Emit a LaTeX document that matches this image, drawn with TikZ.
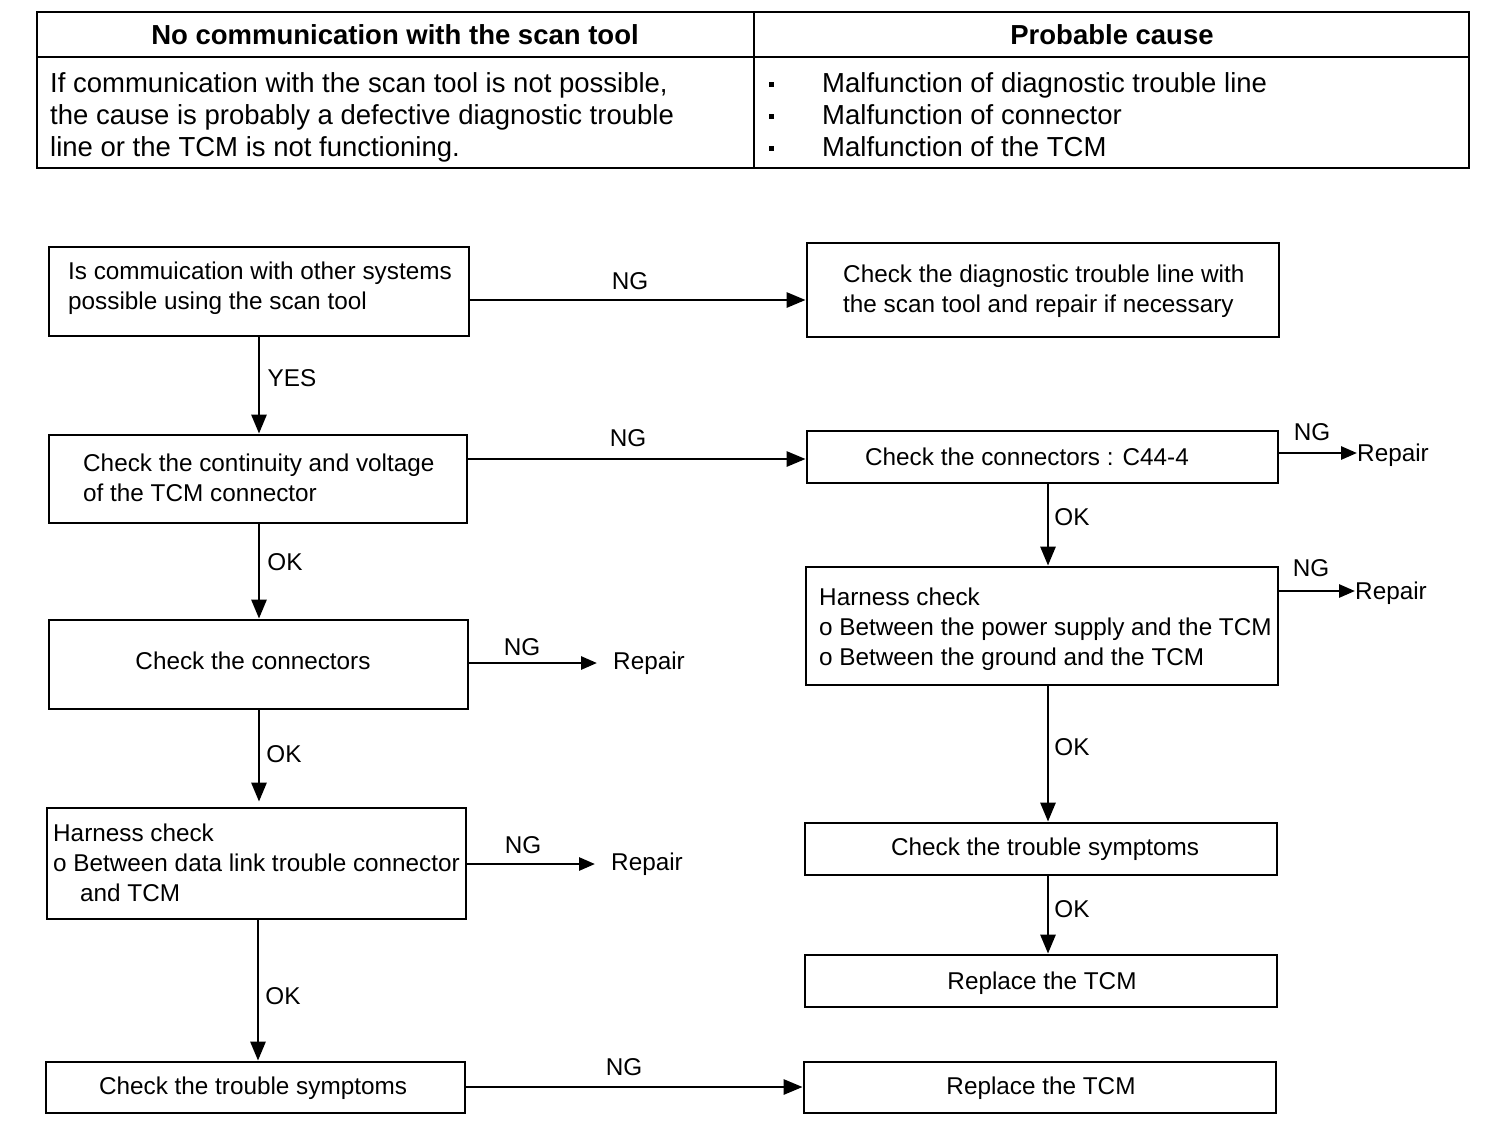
\documentclass[tikz,border=0pt]{standalone}
\usepackage{fontspec}
\setmainfont{Liberation Sans}
\usetikzlibrary{arrows.meta}
\begin{document}
\begin{tikzpicture}[x=1pt,y=-1pt,
  box/.style={draw, line width=2.8pt, rectangle, inner sep=0pt},
  txt/.style={inner sep=0pt, font=\fontsize{24.3pt}{30pt}\selectfont},
  ttxt/.style={inner sep=0pt, font=\fontsize{27.5pt}{32pt}\selectfont},
  arr/.style={line width=2.8pt, -{Triangle[length=19pt,width=15pt]}},
  sarr/.style={line width=2.8pt, -{Triangle[length=16pt,width=13pt]}},
  lbl/.style={inner sep=0pt, font=\fontsize{24.3pt}{30pt}\selectfont}]
\useasboundingbox (0,0) rectangle (1504,1136);
% table
\draw[line width=2.2pt] (37,12) rectangle (1469,168);
\draw[line width=2.2pt] (37,57) -- (1469,57);
\draw[line width=2.2pt] (754,12) -- (754,168);
\node[ttxt, font=\fontsize{27.5pt}{32pt}\selectfont\bfseries] (th1) at (395,35) {No communication with the scan tool};
\node[ttxt, font=\fontsize{27.5pt}{32pt}\selectfont\bfseries] (th2) at (1112,35) {Probable cause};
\node[ttxt, anchor=west, align=left] (tb1) at (50,117) {If communication with the scan tool is not possible,\\the cause is probably a defective diagnostic trouble\\line or the TCM is not functioning.};
\node[ttxt, anchor=west, align=left] (tb2) at (769,119) {\rule[5.5pt]{5pt}{5pt}\\\rule[5.5pt]{5pt}{5pt}\\\rule[5.5pt]{5pt}{5pt}};
\node[ttxt, anchor=west, align=left] (tb3) at (822,115) {Malfunction of diagnostic trouble line\\Malfunction of connector\\Malfunction of the TCM};
% boxes
\node[box, minimum width=420pt, minimum height=89pt] (A) at (259,291.5) {};
\node[box, minimum width=472pt, minimum height=94pt] (B) at (1043,290) {};
\node[box, minimum width=418pt, minimum height=88pt] (C) at (258,479) {};
\node[box, minimum width=471pt, minimum height=52pt] (D) at (1042.5,457) {};
\node[box, minimum width=472pt, minimum height=118pt] (E) at (1042,626) {};
\node[box, minimum width=472pt, minimum height=52pt] (F) at (1041,849) {};
\node[box, minimum width=472pt, minimum height=52pt] (G) at (1041,981) {};
\node[box, minimum width=419pt, minimum height=89pt] (H) at (258.5,664.5) {};
\node[box, minimum width=419pt, minimum height=111pt] (I) at (256.5,863.5) {};
\node[box, minimum width=419pt, minimum height=51pt] (J) at (255.5,1087.5) {};
\node[box, minimum width=472pt, minimum height=51pt] (K) at (1040,1087.5) {};
% box texts
\node[txt, anchor=west, align=left] (At) at (68,288) {Is commuication with other systems\\possible using the scan tool};
\node[txt, anchor=west, align=left] (Bt) at (843,291) {Check the diagnostic trouble line with\\the scan tool and repair if necessary};
\node[txt, anchor=west, align=left] (Ct) at (83,478) {Check the continuity and voltage\\of the TCM connector};
\node[txt] (Dt) at (1027,457) {Check the connectors : C44-4};
\node[txt, anchor=west, align=left] (Et) at (819,629) {Harness check\\o Between the power supply and the TCM\\o Between the ground and the TCM};
\node[txt] (Ft) at (1045,849) {Check the trouble symptoms};
\node[txt] (Gt) at (1042,983) {Replace the TCM};
\node[txt] (Ht) at (253,661) {Check the connectors};
\node[txt, anchor=west, align=left] (It) at (53,863) {Harness check\\o Between data link trouble connector\\\hspace{27pt}and TCM};
\node[txt] (Jt) at (253,1088) {Check the trouble symptoms};
\node[txt] (Kt) at (1041,1088) {Replace the TCM};
% repair nodes
\node[txt, anchor=west] (R1) at (1357,455) {Repair};
\node[txt, anchor=west] (R2) at (1355,593) {Repair};
\node[txt, anchor=west] (R3) at (613,663) {Repair};
\node[txt, anchor=west] (R4) at (611,864) {Repair};
% connectors
\draw[arr] ([yshift=-8.5pt]A.east) -- ([yshift=-8.5pt]A.east -| B.west);
\draw[arr] (A.south) -- (A.south |- C.north);
\draw[arr] ([yshift=20pt]C.east) -- ([yshift=20pt]C.east -| D.west);
\draw[sarr] ([yshift=4pt]D.east) -- ([yshift=4pt]D.east -| R1.west);
\draw[arr] ([xshift=5.5pt]D.south) -- ([xshift=5.5pt]D.south |- E.north);
\draw[sarr] ([yshift=35pt]E.east) -- ([yshift=35pt]E.east -| R2.west);
\draw[arr] ([xshift=6pt]E.south) -- ([xshift=6pt]E.south |- F.north);
\draw[arr] ([xshift=7pt]F.south) -- ([xshift=7pt]F.south |- G.north);
\draw[arr] ([xshift=1pt]C.south) -- ([xshift=1pt]C.south |- H.north);
\draw[sarr, shorten >=16pt] ([yshift=1.5pt]H.east) -- ([yshift=1.5pt]H.east -| R3.west);
\draw[arr, shorten >=5pt] ([xshift=0.5pt]H.south) -- ([xshift=0.5pt]H.south |- I.north);
\draw[sarr, shorten >=16pt] ([yshift=-0.5pt]I.east) -- ([yshift=-0.5pt]I.east -| R4.west);
\draw[arr] ([xshift=1.5pt]I.south) -- ([xshift=1.5pt]I.south |- J.north);
\draw[arr] ([yshift=0.5pt]J.east) -- ([yshift=0.5pt]J.east -| K.west);
% labels
\node[lbl] (l1) at (630,281) {NG};
\node[lbl] (l2) at (292,378) {YES};
\node[lbl] (l3) at (628,438) {NG};
\node[lbl] (l4) at (1312,432) {NG};
\node[lbl] (l5) at (1072,517) {OK};
\node[lbl] (l6) at (1311,568) {NG};
\node[lbl] (l7) at (1072,747) {OK};
\node[lbl] (l8) at (1072,909) {OK};
\node[lbl] (l9) at (285,562) {OK};
\node[lbl] (l10) at (522,647) {NG};
\node[lbl] (l11) at (284,754) {OK};
\node[lbl] (l12) at (523,845) {NG};
\node[lbl] (l13) at (283,996) {OK};
\node[lbl] (l14) at (624,1067) {NG};
\end{tikzpicture}
\end{document}
